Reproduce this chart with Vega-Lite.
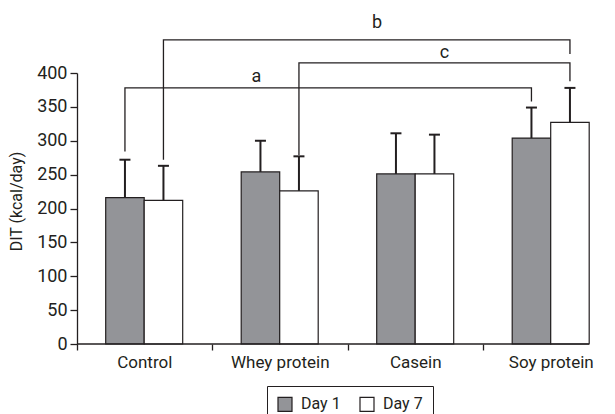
{
  "$schema": "https://vega.github.io/schema/vega-lite/v6.json",
  "width": 512,
  "height": 271,
  "autosize": {"type": "none"},
  "padding": {"left": 77, "top": 73, "right": 26, "bottom": 70},
  "config": {
    "view": {"stroke": null},
    "font": "Roboto",
    "axis": {"grid": false, "domainColor": "#231f20", "tickColor": "#231f20", "labelColor": "#231f20", "titleColor": "#231f20", "labelFont": "Roboto", "titleFont": "Roboto", "titleFontWeight": "normal", "domainWidth": 1.3, "tickWidth": 1.3},
    "axisY": {"tickCount": 8, "labelOverlap": false, "tickSize": 7, "labelPadding": 3, "labelFontSize": 18, "titleFontSize": 16, "titleX": -61, "titleY": 128, "titleAngle": -90, "titleAlign": "center", "titleBaseline": "middle"},
    "axisX": {"bandPosition": 0, "domain": false, "tickSize": 6, "labelPadding": 4, "labelFontSize": 17, "labelAngle": 0},
    "legend": {"labelFont": "Roboto", "labelColor": "#231f20"},
    "text": {"font": "Roboto"}
  },
  "datasets": {
    "bars": [
      {"group": "Control", "day": "Day 1", "mean": 216, "upper": 272},
      {"group": "Control", "day": "Day 7", "mean": 212, "upper": 263},
      {"group": "Whey protein", "day": "Day 1", "mean": 254, "upper": 300},
      {"group": "Whey protein", "day": "Day 7", "mean": 226, "upper": 277},
      {"group": "Casein", "day": "Day 1", "mean": 251, "upper": 311},
      {"group": "Casein", "day": "Day 7", "mean": 251, "upper": 309},
      {"group": "Soy protein", "day": "Day 1", "mean": 304, "upper": 349},
      {"group": "Soy protein", "day": "Day 7", "mean": 327, "upper": 378}
    ],
    "brackets": [
      {"id": "a", "seq": 1, "group": "Control", "day": "Day 1", "y": 284},
      {"id": "a", "seq": 2, "group": "Control", "day": "Day 1", "y": 378},
      {"id": "a", "seq": 3, "group": "Soy protein", "day": "Day 1", "y": 378},
      {"id": "a", "seq": 4, "group": "Soy protein", "day": "Day 1", "y": 358},
      {"id": "b", "seq": 1, "group": "Control", "day": "Day 7", "y": 272},
      {"id": "b", "seq": 2, "group": "Control", "day": "Day 7", "y": 449},
      {"id": "b", "seq": 3, "group": "Soy protein", "day": "Day 7", "y": 449},
      {"id": "b", "seq": 4, "group": "Soy protein", "day": "Day 7", "y": 428},
      {"id": "c", "seq": 1, "group": "Whey protein", "day": "Day 7", "y": 279},
      {"id": "c", "seq": 2, "group": "Whey protein", "day": "Day 7", "y": 415},
      {"id": "c", "seq": 3, "group": "Soy protein", "day": "Day 7", "y": 415},
      {"id": "c", "seq": 4, "group": "Soy protein", "day": "Day 7", "y": 388}
    ]
  },
  "layer": [
    {
      "data": {"name": "bars"},
      "mark": {"type": "bar", "stroke": "#231f20", "strokeWidth": 1.2},
      "encoding": {
        "x": {"field": "group", "type": "nominal", "sort": ["Control", "Whey protein", "Casein", "Soy protein"],
          "scale": {"domain": ["Control", "Whey protein", "Casein", "Soy protein"], "range": [0, 542], "paddingInner": 0, "paddingOuter": 0},
          "axis": {"title": null}},
        "xOffset": {"field": "day", "type": "nominal", "scale": {"domain": ["Day 1", "Day 7"], "range": [28.7, 105.7], "paddingInner": 0, "paddingOuter": 0}},
        "y": {"field": "mean", "type": "quantitative", "scale": {"domain": [0, 400], "nice": false},
          "axis": {"title": "DIT (kcal/day)"}},
        "fill": {"field": "day", "type": "nominal", "scale": {"domain": ["Day 1", "Day 7"], "range": ["#939498", "#ffffff"]},
          "legend": {"orient": "none", "legendX": 190, "legendY": 313, "direction": "horizontal", "title": null, "strokeColor": "#231f20", "padding": 10, "symbolType": "square", "symbolSize": 196, "symbolStrokeColor": "#231f20", "symbolStrokeWidth": 1.2, "labelFontSize": 16, "labelOffset": 8, "columnPadding": 16}}
      }
    },
    {
      "data": {"name": "bars"},
      "mark": {"type": "rule", "stroke": "#231f20", "strokeWidth": 2},
      "encoding": {
        "x": {"field": "group", "type": "nominal", "axis": {"title": null}, "scale": {"domain": ["Control", "Whey protein", "Casein", "Soy protein"], "range": [0, 542], "paddingInner": 0, "paddingOuter": 0}},
        "xOffset": {"field": "day", "type": "nominal", "scale": {"domain": ["Day 1", "Day 7"], "range": [28.7, 105.7], "paddingInner": 0, "paddingOuter": 0}},
        "y": {"field": "mean", "type": "quantitative", "axis": {"title": "DIT (kcal/day)"}, "scale": {"domain": [0, 400], "nice": false}},
        "y2": {"field": "upper"}
      }
    },
    {
      "data": {"name": "bars"},
      "mark": {"type": "tick", "orient": "horizontal", "size": 11, "thickness": 2, "color": "#231f20", "opacity": 1},
      "encoding": {
        "x": {"field": "group", "type": "nominal", "axis": {"title": null}, "scale": {"domain": ["Control", "Whey protein", "Casein", "Soy protein"], "range": [0, 542], "paddingInner": 0, "paddingOuter": 0}},
        "xOffset": {"field": "day", "type": "nominal", "scale": {"domain": ["Day 1", "Day 7"], "range": [28.7, 105.7], "paddingInner": 0, "paddingOuter": 0}},
        "y": {"field": "upper", "type": "quantitative", "axis": {"title": "DIT (kcal/day)"}, "scale": {"domain": [0, 400], "nice": false}}
      }
    },
    {
      "data": {"name": "brackets"},
      "mark": {"type": "line", "stroke": "#231f20", "strokeWidth": 1.3, "interpolate": "linear"},
      "encoding": {
        "x": {"field": "group", "type": "nominal", "axis": {"title": null}, "scale": {"domain": ["Control", "Whey protein", "Casein", "Soy protein"], "range": [0, 542], "paddingInner": 0, "paddingOuter": 0}},
        "xOffset": {"field": "day", "type": "nominal", "scale": {"domain": ["Day 1", "Day 7"], "range": [28.7, 105.7], "paddingInner": 0, "paddingOuter": 0}},
        "y": {"field": "y", "type": "quantitative", "axis": {"title": "DIT (kcal/day)"}, "scale": {"domain": [0, 400], "nice": false}},
        "detail": {"field": "id"},
        "order": {"field": "seq", "type": "quantitative"}
      }
    },
    {
      "data": {"values": [{"label": "a", "group": "Whey protein", "day": "Day 1", "y": 387}]},
      "mark": {"type": "text", "fontSize": 18, "dx": -4, "baseline": "alphabetic", "align": "center", "color": "#231f20"},
      "encoding": {
        "x": {"field": "group", "type": "nominal", "axis": {"title": null}, "scale": {"domain": ["Control", "Whey protein", "Casein", "Soy protein"], "range": [0, 542], "paddingInner": 0, "paddingOuter": 0}},
        "xOffset": {"field": "day", "type": "nominal", "scale": {"domain": ["Day 1", "Day 7"], "range": [28.7, 105.7], "paddingInner": 0, "paddingOuter": 0}},
        "y": {"field": "y", "type": "quantitative", "axis": {"title": "DIT (kcal/day)"}, "scale": {"domain": [0, 400], "nice": false}},
        "text": {"field": "label"}
      }
    },
    {
      "data": {"values": [{"label": "b", "group": "Casein", "day": "Day 1", "y": 466}]},
      "mark": {"type": "text", "fontSize": 18, "dx": -19, "baseline": "alphabetic", "align": "center", "color": "#231f20"},
      "encoding": {
        "x": {"field": "group", "type": "nominal", "axis": {"title": null}, "scale": {"domain": ["Control", "Whey protein", "Casein", "Soy protein"], "range": [0, 542], "paddingInner": 0, "paddingOuter": 0}},
        "xOffset": {"field": "day", "type": "nominal", "scale": {"domain": ["Day 1", "Day 7"], "range": [28.7, 105.7], "paddingInner": 0, "paddingOuter": 0}},
        "y": {"field": "y", "type": "quantitative", "axis": {"title": "DIT (kcal/day)"}, "scale": {"domain": [0, 400], "nice": false}},
        "text": {"field": "label"}
      }
    },
    {
      "data": {"values": [{"label": "c", "group": "Casein", "day": "Day 7", "y": 422}]},
      "mark": {"type": "text", "fontSize": 18, "dx": 10, "baseline": "alphabetic", "align": "center", "color": "#231f20"},
      "encoding": {
        "x": {"field": "group", "type": "nominal", "axis": {"title": null}, "scale": {"domain": ["Control", "Whey protein", "Casein", "Soy protein"], "range": [0, 542], "paddingInner": 0, "paddingOuter": 0}},
        "xOffset": {"field": "day", "type": "nominal", "scale": {"domain": ["Day 1", "Day 7"], "range": [28.7, 105.7], "paddingInner": 0, "paddingOuter": 0}},
        "y": {"field": "y", "type": "quantitative", "axis": {"title": "DIT (kcal/day)"}, "scale": {"domain": [0, 400], "nice": false}},
        "text": {"field": "label"}
      }
    },
    {
      "data": {"values": [{"base": 0}]},
      "mark": {"type": "rule", "stroke": "#231f20", "strokeWidth": 1.3},
      "encoding": {
        "y": {"field": "base", "type": "quantitative", "axis": {"title": "DIT (kcal/day)"}, "scale": {"domain": [0, 400], "nice": false}}
      }
    }
  ]
}
